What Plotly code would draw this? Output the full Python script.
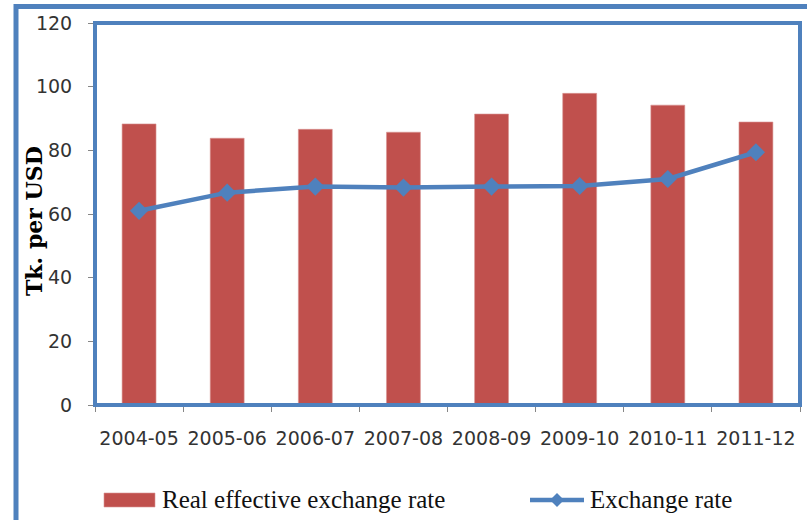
import plotly.graph_objects as go

# Fiscal years and series (Tk. per USD / index)
years = ["2004-05", "2005-06", "2006-07", "2007-08",
         "2008-09", "2009-10", "2010-11", "2011-12"]
reer = [88.3, 83.8, 86.6, 85.7, 91.4, 97.9, 94.2, 88.9]
exchange_rate = [61.0, 66.7, 68.6, 68.3, 68.6, 68.8, 71.0, 79.4]

y_ticks = [0, 20, 40, 60, 80, 100, 120]

W, H = 807, 520
ML, MR, MT, MB = 95, 7, 23, 115
PW, PH = W - ML - MR, H - MT - MB

RED = "#C0504D"
BLUE = "#4F81BD"
GREY = "#868686"


def px_x(x):
    return (x - ML) / PW


def px_y(y):
    return (H - MB - y) / PH


fig = go.Figure()
fig.add_trace(go.Bar(
    x=years, y=reer, name="Real effective exchange rate",
    marker=dict(color=RED, line=dict(color="#D99594", width=0.6)),
    showlegend=False,
))
fig.add_trace(go.Scatter(
    x=years, y=exchange_rate, name="Exchange rate",
    mode="lines+markers",
    line=dict(color=BLUE, width=4.5),
    marker=dict(symbol="diamond", size=14, color=BLUE),
    showlegend=False,
))

shapes = [
    # plot-area border
    dict(type="rect", xref="paper", yref="paper", x0=0, x1=1, y0=0, y1=1,
         line=dict(color=BLUE, width=4), layer="above"),
    # outer chart frame
    dict(type="rect", xref="paper", yref="paper",
         x0=px_x(16), x1=px_x(812), y0=px_y(532), y1=px_y(6.5),
         line=dict(color=BLUE, width=5), layer="above"),
    # legend swatch: bars
    dict(type="rect", xref="paper", yref="paper",
         x0=px_x(104), x1=px_x(155), y0=px_y(507), y1=px_y(493),
         fillcolor=RED, line=dict(color="#D99594", width=0.6)),
    # legend swatch: line with diamond
    dict(type="line", xref="paper", yref="paper",
         x0=px_x(530), x1=px_x(584), y0=px_y(500), y1=px_y(500),
         line=dict(color=BLUE, width=4.5)),
]
cx, cy, r = 557, 500, 7
shapes.append(dict(
    type="path", xref="paper", yref="paper",
    path=(f"M {px_x(cx - r)} {px_y(cy)} L {px_x(cx)} {px_y(cy - r)} "
          f"L {px_x(cx + r)} {px_y(cy)} L {px_x(cx)} {px_y(cy + r)} Z"),
    fillcolor=BLUE, line=dict(color=BLUE, width=0),
))

legend_font = dict(family="Liberation Serif", size=25, color="#111111")
annotations = [
    dict(text="Real effective exchange rate", xref="paper", yref="paper",
         x=px_x(160), y=px_y(499), xanchor="left", yanchor="middle",
         showarrow=False, font=legend_font),
    dict(text="Exchange rate", xref="paper", yref="paper",
         x=px_x(588), y=px_y(499), xanchor="left", yanchor="middle",
         showarrow=False, font=legend_font),
    # y-axis title, overlapping the tick labels
    dict(text="Tk. per USD", xref="paper", yref="paper",
         x=px_x(34), y=px_y(221), xanchor="center", yanchor="middle",
         textangle=-90, showarrow=False,
         font=dict(family="DejaVu Serif", size=22, color="#000000",
                   weight="bold")),
]

tick_font = dict(family="DejaVu Sans", size=19, color="#333333")

fig.update_layout(
    width=W, height=H,
    margin=dict(l=ML, r=MR, t=MT, b=MB, pad=0, autoexpand=False),
    paper_bgcolor="white", plot_bgcolor="white",
    bargap=0.615,
    shapes=shapes,
    annotations=annotations,
    xaxis=dict(
        type="category", showgrid=False, automargin=False,
        showline=True, linecolor=GREY, linewidth=1,
        ticks="outside", tickson="boundaries", ticklen=6, tickangle=0,
        tickcolor=GREY, tickfont=tick_font, ticklabelstandoff=16,
    ),
    yaxis=dict(
        range=[0, 120], tickvals=y_ticks, showgrid=False, zeroline=False,
        automargin=False,
        showline=True, linecolor=GREY, linewidth=1,
        ticks="outside", ticklen=6, tickcolor=GREY,
        tickfont=tick_font, ticklabelstandoff=12,
    ),
)

fig.write_html("out.html")
